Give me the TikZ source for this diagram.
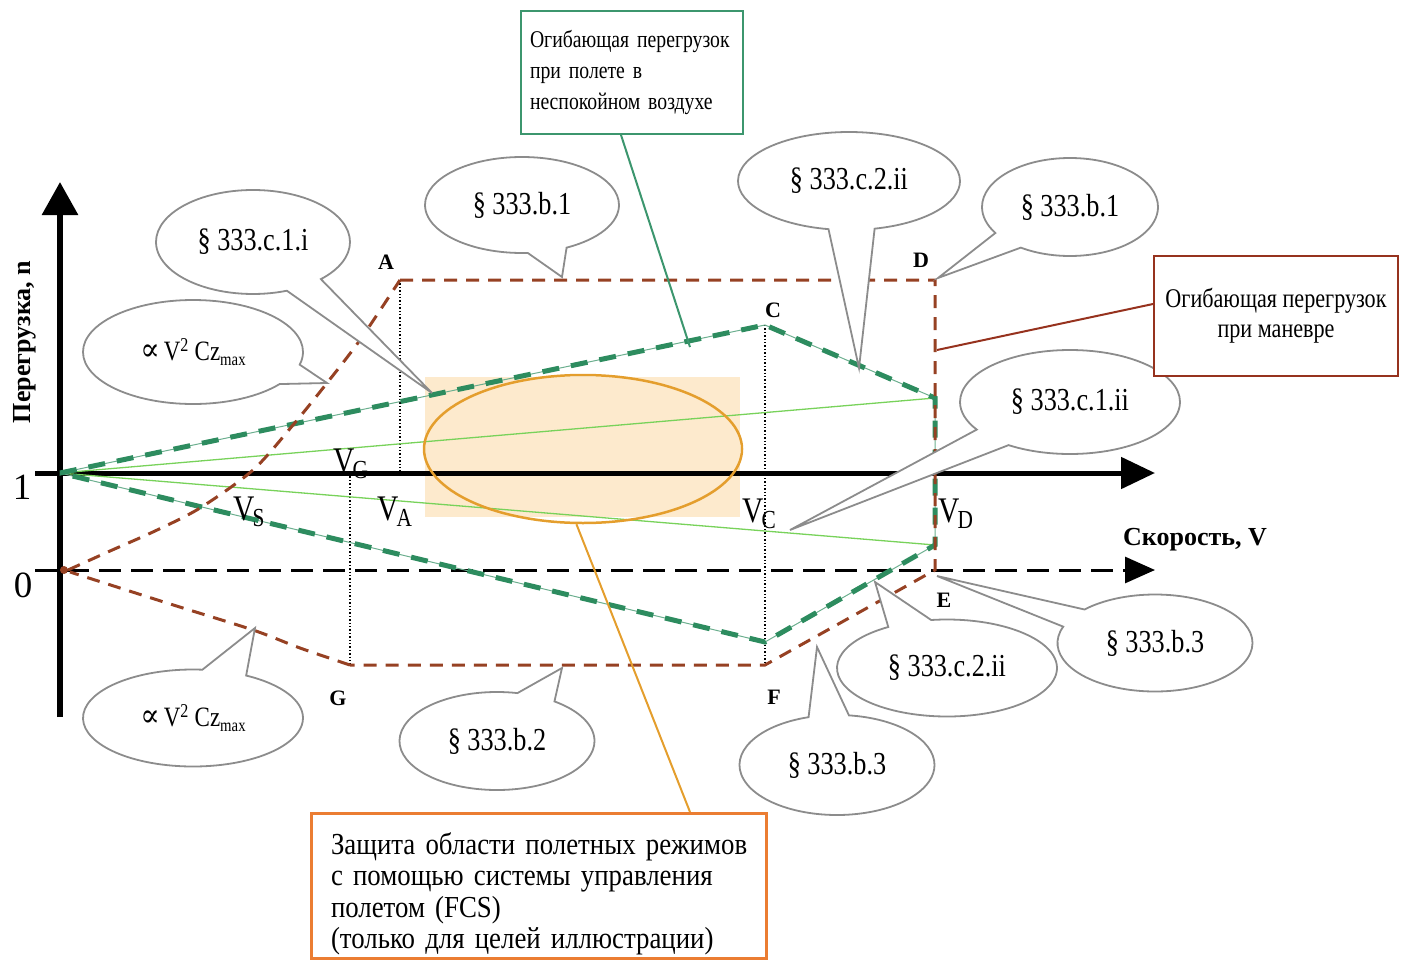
\documentclass[tikz,border=0pt]{standalone}
\usepackage{fontspec}
\setmainfont{Liberation Serif}[FakeStretch=0.82]
\newfontfamily\plainfont{Liberation Serif}
\newfontfamily\widefont{Liberation Serif}[FakeStretch=0.88]
\newfontfamily\symfont{DejaVu Serif}[FakeStretch=0.9]
\usetikzlibrary{shapes.callouts,shapes.geometric,arrows.meta,calc}
\definecolor{brownc}{RGB}{150,65,35}
\definecolor{greenc}{RGB}{45,140,95}
\definecolor{lightg}{RGB}{120,210,90}
\definecolor{bubg}{RGB}{140,140,140}
\definecolor{orell}{RGB}{228,158,45}
\definecolor{orbox}{RGB}{235,125,50}
\definecolor{peach}{RGB}{253,234,205}
\definecolor{gboxc}{RGB}{60,150,110}
\definecolor{bboxc}{RGB}{150,50,30}
\newcommand\fsz[1]{\fontsize{#1}{#1}\selectfont}
\newcommand\Vlab[1]{V\kern-2pt\raisebox{-6pt}{\fsz{26}#1}}
\newcommand\propt{{\symfont\fsz{32}∝}\kern4pt V\textsuperscript{2} Cz\raisebox{-5pt}{\fsz{18}max}}
\tikzset{
  bubble/.style={ellipse callout, draw=bubg, line width=1.8pt, fill=white,
    inner sep=0pt, font=\fsz{32}, callout pointer arc=24},
  brownline/.style={draw=brownc, line width=3pt, dash pattern=on 13pt off 9pt},
  greenthick/.style={draw=greenc, line width=5pt, dash pattern=on 17pt off 12pt},
  greenthin/.style={draw=lightg, line width=1.3pt},
  dotv/.style={draw=black, line width=1.4pt, dotted},
  ptlab/.style={font=\plainfont\bfseries\fsz{22}, inner sep=0pt},
  vlab/.style={font=\fsz{36}, inner sep=0pt, anchor=base west},
}
\begin{document}
\begin{tikzpicture}[x=1pt,y=-1pt]
\useasboundingbox (0,0) rectangle (1404,960);
% key points
\coordinate (O1) at (60,473);
\coordinate (O0) at (68,570);
\coordinate (A) at (400,280);
\coordinate (D) at (935,280);
\coordinate (C) at (765,325);
\coordinate (E) at (935,570);
\coordinate (F) at (765,665);
\coordinate (G) at (350,665);
\coordinate (P1) at (935,398);
\coordinate (P2) at (935,545);
\coordinate (Q) at (765,642);
\coordinate (VAx) at (400,473);
\coordinate (VGx) at (350,473);
% FCS shaded area
\fill[peach] (425,377) rectangle (740,517);
% dotted verticals
\draw[dotv] (A) -- (VAx);
\draw[dotv] (VGx) -- (G);
\draw[dotv] (C) -- (F);
% axes
\coordinate (ybot) at (60,717);
\coordinate (ytop) at (60,182);
\coordinate (x1l) at (35,473);
\coordinate (x1r) at (1155,473);
\coordinate (x0l) at (35,570);
\coordinate (x0r) at (1155,570);
\draw[line width=6pt, -{Triangle[length=33pt,width=35pt]}] (ybot) -- (ytop);
\draw[line width=5pt, -{Triangle[length=34pt,width=31pt]}] (x1l) -- (x1r);
\draw[line width=3pt, dash pattern=on 22pt off 10pt, -{Triangle[length=30pt,width=26pt]}] (x0l) -- (x0r);
% thin green lines
\draw[greenthin] (O1) -- (P1);
\draw[greenthin] (O1) -- (P2);
\draw[draw=greenc!70, line width=1pt] (O1) -- (C) -- (P1) -- (P2) -- (Q) -- (O1);
% thick green dashed envelope
\draw[greenthick] (O1) -- (C) -- (P1) -- (P2) -- (Q) -- (O1);
% brown manoeuvre envelope
\draw[brownline] plot[smooth] coordinates {(68,570) (110,551) (155,531) (200,508) (253,470) (293,425) (327,383) (360,340) (400,280)};
\draw[brownline] (A) -- (D) -- (E) -- (F) -- (G);
\draw[brownline] plot[smooth] coordinates {(350,665) (300,648) (253,630) (167,603) (70,572)};
\fill[brownc] (64,570) circle (4pt);
% FCS ellipse
\node[draw=orell, line width=2.5pt, ellipse, minimum width=318pt, minimum height=148pt, inner sep=0pt] (fcs) at (583,449) {};
% labels
\node[font=\plainfont\fsz{37}, inner sep=0pt] (one) at (22,487) {1};
\node[font=\plainfont\fsz{37}, inner sep=0pt] (zero) at (23,585) {0};
\node[rotate=90, font=\plainfont\bfseries\fsz{26}, inner sep=0pt] (ylab) at (25,342) {Перегрузка, n};
\node[font=\plainfont\bfseries\fsz{26}, inner sep=0pt] (xlab) at (1195,540) {Скорость, V};
\node[ptlab] (lA) at (386,262) {A};
\node[ptlab] (lD) at (921,260) {D};
\node[ptlab] (lC) at (773,310) {C};
\node[ptlab] (lE) at (944,600) {E};
\node[ptlab] (lF) at (774,697) {F};
\node[ptlab] (lG) at (338,698) {G};
\node[vlab] (vG) at (333,472) {\Vlab{G}};
\node[vlab] (vS) at (233,520) {\Vlab{S}};
\node[vlab] (vA) at (377,520) {\Vlab{A}};
\node[vlab] (vC) at (742,522) {\Vlab{C}};
\node[vlab] (vD) at (938,522) {\Vlab{D}};
% callout tips
\coordinate (t1) at (432,393);
\coordinate (t2) at (327,383);
\coordinate (t3) at (562,277);
\coordinate (t4) at (859,368);
\coordinate (t5) at (938,278);
\coordinate (t6) at (790,530);
\coordinate (t7) at (937,576);
\coordinate (t8) at (875,582);
\coordinate (t9) at (817,647);
\coordinate (t10) at (562,668);
\coordinate (t11) at (255,628);
% callouts
\node[bubble, minimum width=194pt, minimum height=104pt, callout absolute pointer={(t1)}] (c1) at (253,242) {§ 333.c.1.i};
\node[bubble, font=\fsz{28}, minimum width=220pt, minimum height=104pt, callout absolute pointer={(t2)}] (c2) at (193,352) {\propt};
\node[bubble, minimum width=194pt, minimum height=96pt, callout absolute pointer={(t3)}] (c3) at (522,205) {§ 333.b.1};
\node[bubble, minimum width=222pt, minimum height=98pt, callout absolute pointer={(t4)}] (c4) at (849,181) {§ 333.c.2.ii};
\node[bubble, minimum width=176pt, minimum height=98pt, callout absolute pointer={(t5)}] (c5) at (1070,207) {§ 333.b.1};
\node[bubble, minimum width=220pt, minimum height=104pt, callout absolute pointer={(t6)}] (c6) at (1070,402) {§ 333.c.1.ii};
\node[bubble, minimum width=195pt, minimum height=97pt, callout absolute pointer={(t7)}] (c7) at (1155,643) {§ 333.b.3};
\node[bubble, minimum width=220pt, minimum height=97pt, callout absolute pointer={(t8)}] (c8) at (947,668) {§ 333.c.2.ii};
\node[bubble, minimum width=195pt, minimum height=100pt, callout absolute pointer={(t9)}] (c9) at (837,765) {§ 333.b.3};
\node[bubble, minimum width=195pt, minimum height=98pt, callout absolute pointer={(t10)}] (c10) at (497,741) {§ 333.b.2};
\node[bubble, font=\fsz{28}, minimum width=220pt, minimum height=97pt, callout absolute pointer={(t11)}] (c11) at (193,718) {\propt};
% green box
\node[draw=gboxc, line width=2pt, fill=white, anchor=north west, minimum width=222pt, minimum height=123pt,
  text width=204pt, align=left, inner sep=0pt, font=\fontsize{24}{31}\selectfont] (gbox) at (520,10)
  {Огибающая перегрузок\\при полете в\\неспокойном воздухе};
\coordinate (gtip) at (690,347);
\draw[draw=gboxc, line width=2pt] ($(gbox.south)+(-11,0)$) -- (gtip);
% brown box
\node[draw=bboxc, line width=2pt, fill=white, anchor=north west, minimum width=244pt, minimum height=120pt,
  align=center, inner sep=0pt, font=\fontsize{27}{30}\selectfont] (bbox) at (1153,255)
  {Огибающая перегрузок\\при маневре};
\coordinate (btip) at (937,350);
\draw[draw=bboxc, line width=2pt] ($(bbox.west)+(0,-12)$) -- (btip);
% orange box
\node[draw=orbox, line width=3pt, fill=white, anchor=north west, minimum width=455pt, minimum height=145pt,
  text width=440pt, align=left, inner sep=0pt, font=\widefont\fontsize{30.5}{31.5}\selectfont] (obox) at (310,812)
  {\hspace*{12pt}\rule{0pt}{37pt}Защита области полетных режимов\\\hspace*{12pt}с помощью системы управления\\\hspace*{12pt}полетом (FCS)\\\hspace*{12pt}(только для целей иллюстрации)};
\draw[draw=orell, line width=2pt] (fcs.265) -- ($(obox.north west)+(380,0)$);
\end{tikzpicture}
\end{document}
